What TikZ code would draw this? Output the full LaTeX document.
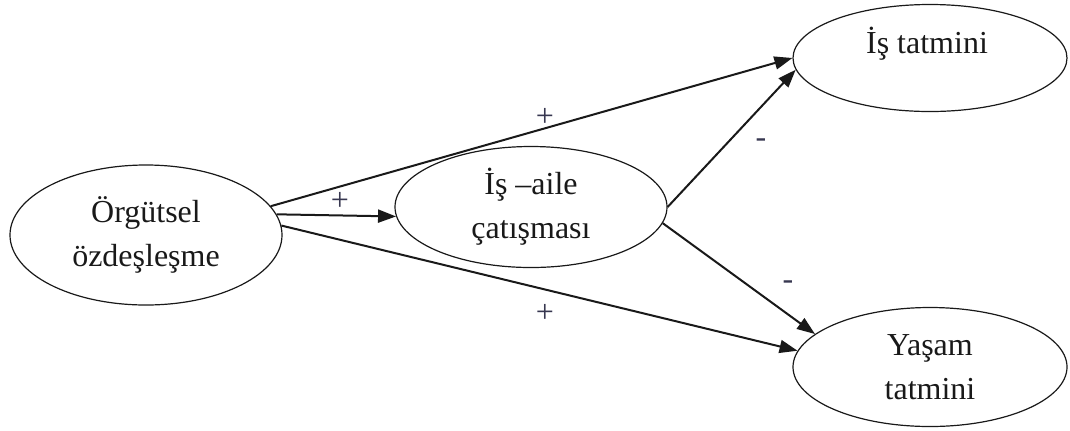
\documentclass[tikz,border=0pt]{standalone}
\usepackage{fontspec}
\setmainfont{Liberation Serif}
\usetikzlibrary{arrows.meta,shapes.geometric,calc}
\definecolor{ink}{RGB}{25,25,25}
\definecolor{signink}{RGB}{55,55,80}
\tikzset{
  every picture/.style={color=ink, line width=0.6pt},
  construct/.style={draw=ink, ellipse, inner sep=0pt, align=center, font=\fontsize{16}{22}\selectfont},
  txt/.style={inner sep=0pt, align=center, font=\fontsize{16}{22}\selectfont},
  effect/.style={-{Triangle[length=9pt,width=6.5pt]}, line width=1pt},
  sign/.style={font=\fontsize{16}{18}\selectfont, text=signink, inner sep=1pt},
}

\begin{document}
\begin{tikzpicture}[x=0.5pt, y=-0.5pt]
  % frame of the reference, 1070 x 430 px
  \useasboundingbox (0,0) rectangle (1070,430);
  % constructs
  \node[construct, minimum width=136pt, minimum height=70pt] (org) at (146,235) {Örgütsel\\özdeşleşme};
  \node[construct, minimum width=136pt, minimum height=60.5pt] (conflict) at (531,207) {İş –aile\\çatışması};
  \node[construct, minimum width=137pt, minimum height=53.5pt] (job) at (930,58) {};
  \node[txt] (jobtext) at (927,44) {İş tatmini};
  \node[construct, minimum width=137pt, minimum height=59.5pt] (life) at (930,367) {Yaşam\\tatmini};
  % paths
  \draw[effect] (org.13) -- (job.west);
  \draw[effect] (org.9) -- (conflict.184);
  \draw[effect] (org.4) -- (life.173);
  \draw[effect] (conflict.east) -- (job.185);
  \draw[effect] (conflict.-7) -- (life.164);
  % signs
  \node[sign] (s1) at (545,117) {+};
  \node[sign] (s2) at (340,201) {+};
  \node[sign] (s3) at (545,313) {+};
  \node[sign] (s4) at (761,143) {-};
  \node[sign] (s5) at (788,285) {-};
\end{tikzpicture}
\end{document}
